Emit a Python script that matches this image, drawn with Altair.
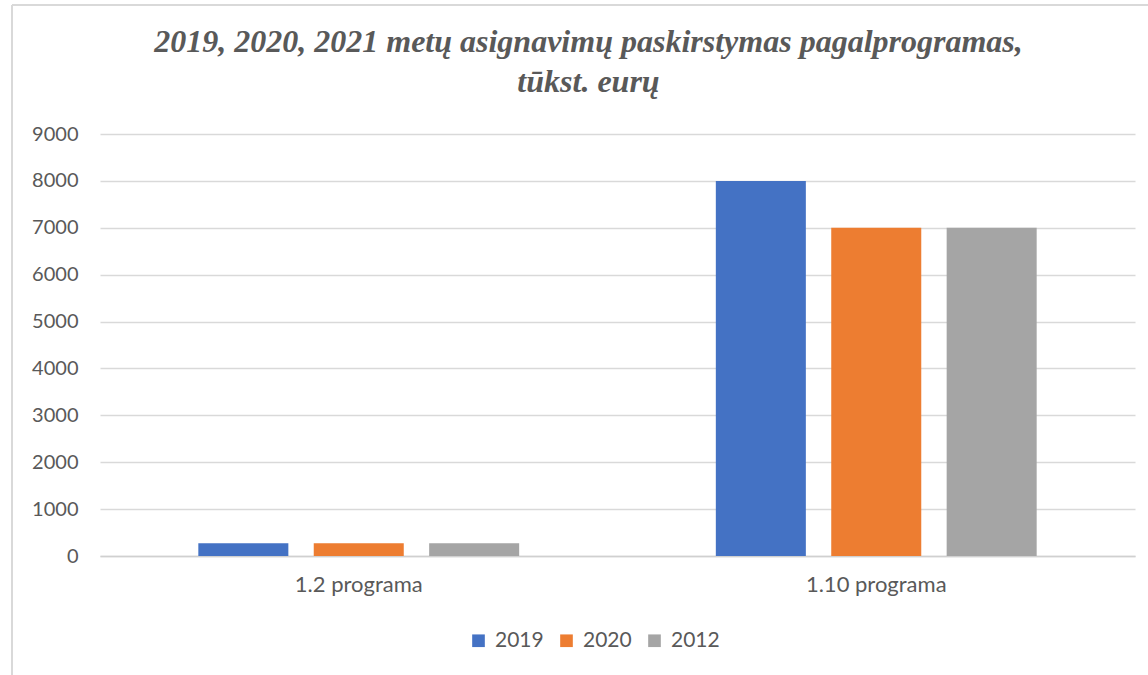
import altair as alt
import pandas as pd

categories = ["1.2 programa", "1.10 programa"]
series = ["2019", "2020", "2012"]
values_2019 = [270, 8000]
values_2020 = [270, 7000]
values_2012 = [270, 7000]
colors = ["#4472C4", "#ED7D31", "#A5A5A5"]

rows = []
for s, vals in zip(series, [values_2019, values_2020, values_2012]):
    for c, v in zip(categories, vals):
        rows.append({"Programa": c, "Metai": s, "Value": v})
df = pd.DataFrame(rows)

W, H = 1035, 422
font = "Lato"
grey = "#595959"
fs = 20

bars = alt.Chart(df).mark_bar().encode(
    x=alt.X("Programa:N", sort=categories, title=None,
            scale=alt.Scale(paddingInner=0.38, paddingOuter=0.19),
            axis=alt.Axis(labelAngle=0, labelFontSize=22, labelFont=font, labelColor=grey,
                          ticks=False, domainColor="#d0d0d0", domainWidth=1.5,
                          labelPadding=18, grid=False)),
    xOffset=alt.XOffset("Metai:N", sort=series,
                        scale=alt.Scale(paddingInner=0.22, paddingOuter=0)),
    y=alt.Y("Value:Q", title=None,
            scale=alt.Scale(domain=[0, 9000]),
            axis=alt.Axis(values=list(range(0, 9001, 1000)), format="d", labelFontSize=fs,
                          labelFont=font, labelColor=grey, ticks=False, domain=False,
                          labelPadding=22, gridColor="#d9d9d9", gridWidth=1.3)),
    color=alt.Color("Metai:N", sort=series,
                    scale=alt.Scale(domain=series, range=colors),
                    legend=alt.Legend(title=None, orient="none", direction="horizontal",
                                      legendX=368, legendY=496, symbolType="square",
                                      symbolSize=160, symbolStrokeWidth=0,
                                      labelFontSize=21, labelFont=font, labelColor=grey,
                                      columnPadding=12, labelOffset=6)),
)

frame_left = alt.Chart(df).mark_rule(color="#d9d9d9", strokeWidth=1.5).encode(
    x=alt.value(-88), y=alt.value(-129), y2=alt.value(560))
frame_top = alt.Chart(df).mark_rule(color="#d9d9d9", strokeWidth=1.5).encode(
    x=alt.value(-88), x2=alt.value(1100), y=alt.value(-129))

chart = alt.layer(bars, frame_left, frame_top).properties(
    width=W, height=H,
    autosize=alt.AutoSizeParams(type="none"),
    padding={"left": 100, "top": 134, "right": 13, "bottom": 119},
    title=alt.TitleParams(
        text=["2019, 2020, 2021 metų asignavimų paskirstymas pagalprogramas,", "tūkst. eurų"],
        font="Liberation Serif", fontSize=32, fontStyle="italic", fontWeight="bold",
        color=grey, anchor="middle", frame="group", dx=-29, offset=-95, lineHeight=40),
).configure_view(stroke=None)

chart.save("out.html", embed_options={"renderer": "svg", "actions": False})
